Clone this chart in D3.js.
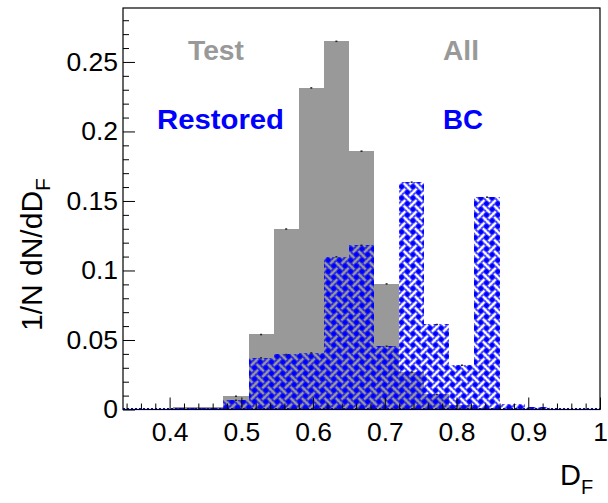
<!DOCTYPE html>
<html>
<head>
<meta charset="utf-8">
<script src="https://cdn.jsdelivr.net/npm/d3@7"></script>
<style>
  html, body { margin: 0; padding: 0; background: #fff; }
  svg { display: block; }
  text { font-family: "Liberation Sans", Arial, Helvetica, sans-serif; }
</style>
</head>
<body>
<svg id="chart" width="608" height="503"></svg>
<script>
// ---- data ----
const binEdges = [0.335, 0.37, 0.405, 0.44, 0.475, 0.51, 0.545, 0.58, 0.615, 0.65,
                  0.685, 0.72, 0.755, 0.79, 0.825, 0.86, 0.895, 0.93, 0.965, 1.0];
const testAll    = [0, 0, 0.0015, 0.0015, 0.0097, 0.0541, 0.130, 0.2315, 0.265, 0.186,
                    0.0905, 0.027, 0.011, 0.003, 0.001, 0, 0, 0, 0];
const restoredBC = [0, 0.0005, 0.001, 0.0012, 0.0068, 0.0373, 0.0397, 0.0409, 0.110, 0.1183,
                    0.0457, 0.1637, 0.0613, 0.032, 0.1529, 0.004, 0.002, 0.0005, 0];
const xTickValues = [0.4, 0.5, 0.6, 0.7, 0.8, 0.9, 1.0];
const xTickLabels = ["0.4", "0.5", "0.6", "0.7", "0.8", "0.9", "1"];
const yTickValues = [0, 0.05, 0.1, 0.15, 0.2, 0.25];
const yTickLabels = ["0", "0.05", "0.1", "0.15", "0.2", "0.25"];
const xDomain = [0.335, 1.0];
const yDomain = [0, 0.2888];

// ---- layout ----
const L = 123, R = 600, T = 8, B = 409.5;
const svg = d3.select("#chart");
const x = d3.scaleLinear().domain(xDomain).range([L, R]);
const y = d3.scaleLinear().domain(yDomain).range([B, T]);

const GRAY = "#999999", BLUE = "#0000ff";

// weave pattern used as mask for the blue hatch
const defs = svg.append("defs");
const P = 8, w = 2.6, g = 1.4;
const pat = defs.append("pattern")
  .attr("id", "weave").attr("patternUnits", "userSpaceOnUse")
  .attr("width", 2 * P).attr("height", 2 * P)
  .attr("patternTransform", "rotate(45)");
pat.append("rect").attr("width", 2 * P).attr("height", 2 * P).attr("fill", "white");
[P / 2, 3 * P / 2].forEach(c => {
  pat.append("rect").attr("x", 0).attr("y", c - w / 2).attr("width", 2 * P).attr("height", w).attr("fill", "black");
  pat.append("rect").attr("x", c - w / 2).attr("y", 0).attr("width", w).attr("height", 2 * P).attr("fill", "black");
});
[[P / 2, P / 2, true], [3 * P / 2, P / 2, false], [P / 2, 3 * P / 2, false], [3 * P / 2, 3 * P / 2, true]]
  .forEach(([cx, cy, hTop]) => {
    if (hTop) {
      pat.append("rect").attr("x", cx - w / 2).attr("y", cy - w / 2 - g).attr("width", w).attr("height", w + 2 * g).attr("fill", "white");
      pat.append("rect").attr("x", cx - w / 2 - g).attr("y", cy - w / 2).attr("width", w + 2 * g).attr("height", w).attr("fill", "black");
    } else {
      pat.append("rect").attr("x", cx - w / 2 - g).attr("y", cy - w / 2).attr("width", w + 2 * g).attr("height", w).attr("fill", "white");
      pat.append("rect").attr("x", cx - w / 2).attr("y", cy - w / 2 - g).attr("width", w).attr("height", w + 2 * g).attr("fill", "black");
    }
  });
const mask = defs.append("mask").attr("id", "weaveMask")
  .attr("maskUnits", "userSpaceOnUse").attr("x", 0).attr("y", 0).attr("width", 608).attr("height", 503);
mask.append("rect").attr("width", 608).attr("height", 503).attr("fill", "url(#weave)");

const bins = d3.range(binEdges.length - 1).map(i => ({
  x0: binEdges[i], x1: binEdges[i + 1], test: testAll[i], rest: restoredBC[i]
}));

// gray histogram (Test All)
svg.append("g").selectAll("rect").data(bins.filter(d => d.test > 0)).join("rect")
  .attr("x", d => x(d.x0)).attr("width", d => x(d.x1) - x(d.x0))
  .attr("y", d => y(d.test)).attr("height", d => B - y(d.test))
  .attr("fill", GRAY).attr("shape-rendering", "crispEdges");

// blue hatched histogram (Restored BC)
svg.append("g").attr("mask", "url(#weaveMask)")
  .selectAll("rect").data(bins.filter(d => d.rest > 0)).join("rect")
  .attr("x", d => x(d.x0)).attr("width", d => x(d.x1) - x(d.x0))
  .attr("y", d => y(d.rest)).attr("height", d => B - y(d.rest))
  .attr("fill", BLUE).attr("shape-rendering", "crispEdges");

// blue baseline
svg.append("line").attr("x1", L).attr("x2", R).attr("y1", B - 1).attr("y2", B - 1)
  .attr("stroke", BLUE).attr("stroke-width", 1.2).attr("stroke-dasharray", "2,2");

// markers at bin centres
const dots = svg.append("g");
bins.forEach(d => {
  const cx = x((d.x0 + d.x1) / 2);
  if (d.test > 0.005) dots.append("rect").attr("x", cx - 1).attr("y", y(d.test) - 0.5).attr("width", 2).attr("height", 1.5).attr("fill", "#222");
  if (d.rest > 0.005) dots.append("rect").attr("x", cx - 1).attr("y", y(d.rest) - 0.5).attr("width", 2).attr("height", 1.5).attr("fill", "#222");
});

// axes
const fs = 26.5;
const xAxis = d3.axisBottom(x).tickValues(xTickValues)
  .tickFormat((d, i) => xTickLabels[i]).tickSizeInner(-12).tickSizeOuter(0).tickPadding(13);
const gx = svg.append("g").attr("transform", `translate(0,${B})`).call(xAxis);
gx.select(".domain").remove();
gx.selectAll("text").attr("font-size", fs).attr("fill", "#000")
  .attr("font-family", "Liberation Sans, Arial, sans-serif");
gx.selectAll("line").attr("stroke", "#000");

const xMinor = d3.range(17, 51).map(k => k * 0.02).filter(v => Math.abs(v * 10 - Math.round(v * 10)) > 1e-6 && v >= xDomain[0]);
const gxm = svg.append("g").attr("transform", `translate(0,${B})`)
  .call(d3.axisBottom(x).tickValues(xMinor).tickFormat("").tickSizeInner(-6).tickSizeOuter(0));
gxm.select(".domain").remove();
gxm.selectAll("line").attr("stroke", "#000");

const yAxis = d3.axisLeft(y).tickValues(yTickValues)
  .tickFormat((d, i) => yTickLabels[i]).tickSizeInner(-12).tickSizeOuter(0).tickPadding(5);
const gy = svg.append("g").attr("transform", `translate(${L},0)`).call(yAxis);
gy.select(".domain").remove();
gy.selectAll("text").attr("font-size", fs).attr("fill", "#000")
  .attr("font-family", "Liberation Sans, Arial, sans-serif");
gy.selectAll("line").attr("stroke", "#000");

const yMinor = d3.range(1, 29).map(k => k * 0.01).filter(v => Math.abs(v * 20 - Math.round(v * 20)) > 1e-6);
const gym = svg.append("g").attr("transform", `translate(${L},0)`)
  .call(d3.axisLeft(y).tickValues(yMinor).tickFormat("").tickSizeInner(-6).tickSizeOuter(0));
gym.select(".domain").remove();
gym.selectAll("line").attr("stroke", "#000");

// frame
svg.append("rect").attr("x", L).attr("y", T).attr("width", R - L).attr("height", B - T)
  .attr("fill", "none").attr("stroke", "#000").attr("stroke-width", 1.2);

// axis titles
const yt = svg.append("text").attr("transform", "translate(42,331) rotate(-90)")
  .attr("font-size", 30).attr("fill", "#000");
yt.append("tspan").text("1/N dN/dD");
yt.append("tspan").attr("font-size", 21).attr("dy", 8).text("F");

const xt = svg.append("text").attr("x", 560).attr("y", 485).attr("font-size", 29).attr("fill", "#000");
xt.append("tspan").text("D");
xt.append("tspan").attr("font-size", 20).attr("dy", 9).text("F");

// legend-style labels
const lab = [
  { t: "Test", x: 188, y: 60, c: GRAY, len: 56 },
  { t: "All", x: 443, y: 60, c: GRAY, len: 36 },
  { t: "Restored", x: 157, y: 129, c: BLUE, len: 127 },
  { t: "BC", x: 443, y: 129, c: BLUE, len: 40 }
];
svg.append("g").selectAll("text").data(lab).join("text")
  .attr("x", d => d.x).attr("y", d => d.y).attr("fill", d => d.c)
  .attr("font-size", 28.5).attr("font-weight", "bold")
  .attr("textLength", d => d.len).attr("lengthAdjust", "spacingAndGlyphs")
  .text(d => d.t);
</script>
</body>
</html>
